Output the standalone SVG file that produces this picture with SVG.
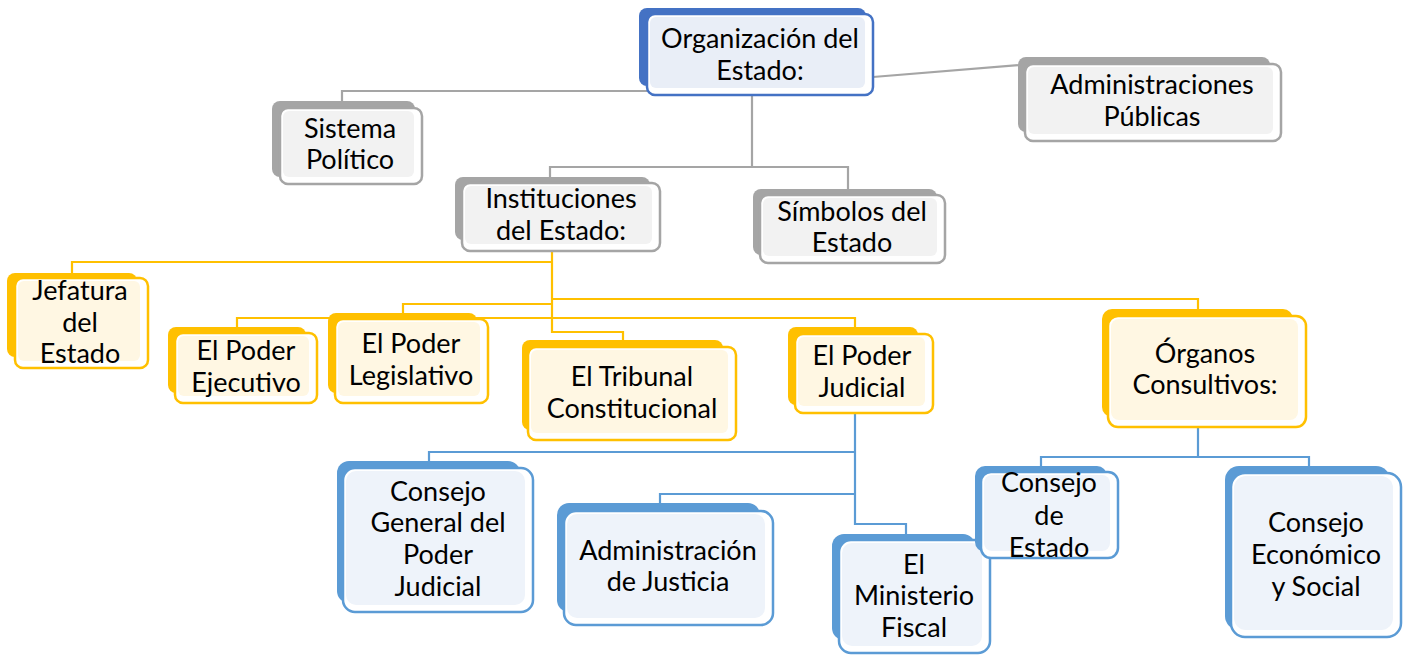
<svg xmlns="http://www.w3.org/2000/svg" width="1408" height="657" viewBox="0 0 1408 657">
<style>
text{font-family:Lato,"Liberation Sans",sans-serif;font-size:27px;fill:#000;text-anchor:middle}
.cg{stroke:#A5A5A5;stroke-width:2.2;fill:none}
.cy{stroke:#FFC000;stroke-width:2.2;fill:none}
.cb{stroke:#5B9BD5;stroke-width:2.2;fill:none}
.f{fill:#fff;stroke-width:2.5}
.bB{fill:#4472C4}.sB{stroke:#4472C4}.iB{fill:#E9EEF7}
.bG{fill:#A5A5A5}.sG{stroke:#A5A5A5}.iG{fill:#F2F2F2}
.bY{fill:#FFC000}.sY{stroke:#FFC000}.iY{fill:#FFF7E3}
.bL{fill:#5B9BD5}.sL{stroke:#5B9BD5}.iL{fill:#EEF3FA}
</style>
<g id="connectors">
<polyline class="cg" points="752,95 752,167"/>
<polyline class="cg" points="550,183 550,167 848,167 848,189"/>
<polyline class="cg" points="647,91 342,91 342,104"/>
<line class="cg" x1="873" y1="77" x2="1020" y2="65"/>
<polyline class="cy" points="552,251 552,332 623,332 623,340"/>
<polyline class="cy" points="552,262 72,262 72,273"/>
<polyline class="cy" points="552,299 1198,299 1198,309"/>
<polyline class="cy" points="552,304 403,304 403,313"/>
<polyline class="cy" points="237,327 237,318 855,318 855,327"/>
<polyline class="cb" points="855,413 855,524 906,524 906,540"/>
<polyline class="cb" points="855,452 429,452 429,461"/>
<polyline class="cb" points="855,494 660,494 660,503"/>
<polyline class="cb" points="1198,427 1198,457 1041,457 1041,466"/>
<polyline class="cb" points="1198,457 1309,457 1309,466"/>
</g>
<g id="n-org">
<rect class="bB" x="639" y="8" width="227" height="78" rx="8"/>
<rect class="f sB" x="647" y="14" width="226" height="81" rx="8"/>
<rect class="iB" x="650" y="17" width="215" height="71" rx="6"/>
<text x="760" y="48">Organización del</text><text x="760" y="80">Estado:</text>
</g>
<g id="n-sis">
<rect class="bG" x="272" y="101" width="143" height="76" rx="8"/>
<rect class="f sG" x="280" y="108" width="142" height="76" rx="8"/>
<rect class="iG" x="283" y="111" width="131" height="66" rx="6"/>
<text x="350" y="138">Sistema</text><text x="350" y="169">Político</text>
</g>
<g id="n-adm">
<rect class="bG" x="1018" y="57" width="252" height="75" rx="8"/>
<rect class="f sG" x="1025" y="64" width="256" height="77" rx="8"/>
<rect class="iG" x="1028" y="67" width="245" height="67" rx="6"/>
<text x="1152" y="94">Administraciones</text><text x="1152" y="126">Públicas</text>
</g>
<g id="n-ins">
<rect class="bG" x="455" y="177" width="195" height="63" rx="8"/>
<rect class="f sG" x="462" y="183" width="198" height="68" rx="8"/>
<rect class="iG" x="465" y="186" width="187" height="58" rx="6"/>
<text x="561" y="208">Instituciones</text><text x="561" y="240">del Estado:</text>
</g>
<g id="n-sim">
<rect class="bG" x="753" y="189" width="184" height="66" rx="8"/>
<rect class="f sG" x="760" y="195" width="185" height="68" rx="8"/>
<rect class="iG" x="763" y="198" width="174" height="58" rx="6"/>
<text x="852" y="221">Símbolos del</text><text x="852" y="252">Estado</text>
</g>
<g id="n-jef">
<rect class="bY" x="7" y="273" width="130" height="84" rx="8"/>
<rect class="f sY" x="15" y="278" width="133" height="90" rx="8"/>
<rect class="iY" x="18" y="281" width="122" height="80" rx="6"/>
<text x="80" y="300">Jefatura</text><text x="80" y="332">del</text><text x="80" y="363">Estado</text>
</g>
<g id="n-eje">
<rect class="bY" x="168" y="327" width="138" height="66" rx="8"/>
<rect class="f sY" x="175" y="333" width="142" height="70" rx="8"/>
<rect class="iY" x="178" y="336" width="131" height="60" rx="6"/>
<text x="246" y="360">El Poder</text><text x="246" y="392">Ejecutivo</text>
</g>
<g id="n-leg">
<rect class="bY" x="328" y="313" width="149" height="80" rx="8"/>
<rect class="f sY" x="335" y="319" width="153" height="84" rx="8"/>
<rect class="iY" x="338" y="322" width="142" height="74" rx="6"/>
<text x="411" y="353">El Poder</text><text x="411" y="385">Legislativo</text>
</g>
<g id="n-tri">
<rect class="bY" x="522" y="340" width="201" height="90" rx="8"/>
<rect class="f sY" x="528" y="347" width="208" height="93" rx="8"/>
<rect class="iY" x="531" y="350" width="197" height="83" rx="6"/>
<text x="632" y="386">El Tribunal</text><text x="632" y="418">Constitucional</text>
</g>
<g id="n-jud">
<rect class="bY" x="788" y="327" width="130" height="78" rx="8"/>
<rect class="f sY" x="795" y="334" width="138" height="79" rx="8"/>
<rect class="iY" x="798" y="337" width="127" height="69" rx="6"/>
<text x="862" y="365">El Poder</text><text x="862" y="397">Judicial</text>
</g>
<g id="n-con">
<rect class="bY" x="1102" y="309" width="191" height="108" rx="10"/>
<rect class="f sY" x="1108" y="316" width="198" height="111" rx="10"/>
<rect class="iY" x="1111" y="319" width="187" height="101" rx="8"/>
<text x="1205" y="363">Órganos</text><text x="1205" y="394">Consultivos:</text>
</g>
<g id="n-cgpj">
<rect class="bL" x="337" y="461" width="183" height="142" rx="12"/>
<rect class="f sL" x="343" y="468" width="190" height="144" rx="12"/>
<rect class="iL" x="346" y="471" width="179" height="134" rx="10"/>
<text x="438" y="501">Consejo</text><text x="438" y="532">General del</text><text x="438" y="564">Poder</text><text x="438" y="596">Judicial</text>
</g>
<g id="n-aj">
<rect class="bL" x="557" y="503" width="203" height="109" rx="12"/>
<rect class="f sL" x="564" y="511" width="209" height="114" rx="12"/>
<rect class="iL" x="567" y="514" width="198" height="104" rx="10"/>
<text x="668" y="560">Administración</text><text x="668" y="591">de Justicia</text>
</g>
<g id="n-mf">
<rect class="bL" x="832" y="534" width="143" height="106" rx="12"/>
<rect class="f sL" x="839" y="540" width="151" height="113" rx="12"/>
<rect class="iL" x="842" y="543" width="140" height="103" rx="10"/>
<text x="914" y="574">El</text><text x="914" y="605">Ministerio</text><text x="914" y="637">Fiscal</text>
</g>
<g id="n-ce">
<rect class="bL" x="975" y="466" width="132" height="86" rx="10"/>
<rect class="f sL" x="981" y="472" width="137" height="86" rx="10"/>
<rect class="iL" x="984" y="475" width="126" height="76" rx="8"/>
<text x="1049" y="492">Consejo</text><text x="1049" y="525">de</text><text x="1049" y="557">Estado</text>
</g>
<g id="n-ces">
<rect class="bL" x="1225" y="466" width="165" height="164" rx="14"/>
<rect class="f sL" x="1231" y="473" width="170" height="164" rx="14"/>
<rect class="iL" x="1234" y="476" width="159" height="154" rx="12"/>
<text x="1316" y="532">Consejo</text><text x="1316" y="564">Económico</text><text x="1316" y="596">y Social</text>
</g>
</svg>
